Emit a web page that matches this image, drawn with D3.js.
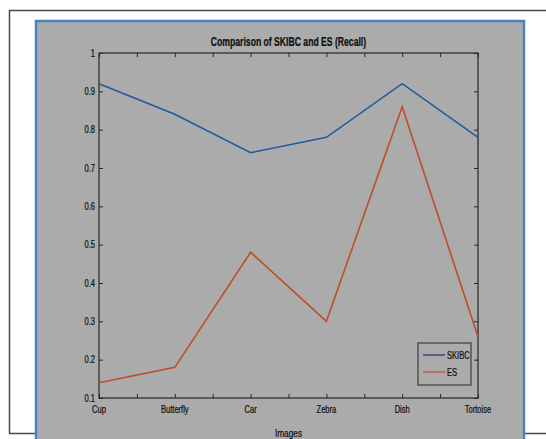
<!DOCTYPE html>
<html>
<head>
<meta charset="utf-8">
<script src="https://cdn.jsdelivr.net/npm/d3@7"></script>
<style>
  html, body { margin: 0; padding: 0; background: #fff; }
  svg { display: block; }
  text { font-family: 'Liberation Sans', Arial, sans-serif; fill: #111; stroke: #111; stroke-width: 0.25; }
</style>
</head>
<body>
<svg id="chart" width="546" height="439"></svg>
<script>
// chart data
const categories = ['Cup', 'Butterfly', 'Car', 'Zebra', 'Dish', 'Tortoise'];
const skibc = [0.92, 0.84, 0.74, 0.78, 0.92, 0.78];
const es = [0.14, 0.18, 0.48, 0.30, 0.86, 0.26];
const yTicks = [0.1, 0.2, 0.3, 0.4, 0.5, 0.6, 0.7, 0.8, 0.9, 1];
const seriesNames = ['SKIBC', 'ES'];

const W = 546;
const NARROW = 0.72; // the original uses a condensed face, squeeze horizontally
const svg = d3.select('#chart');

// place text at (x, y) squeezed horizontally
function narrowAt(sel, fx, fy) {
  return sel.attr('transform', (d, i) => `translate(${fx(d, i)},${fy(d, i)}) scale(${NARROW},1)`);
}

// outer page frame
svg.append('path')
  .attr('d', `M9.5,433.5 V10.5 H${W}`)
  .attr('fill', 'none')
  .attr('stroke', '#4a4a4a')
  .attr('stroke-width', 1.5);
svg.append('line')
  .attr('x1', 9).attr('x2', W).attr('y1', 433.5).attr('y2', 433.5)
  .attr('stroke', '#4a4a4a').attr('stroke-width', 1.5);

// gray figure panel with blue border
svg.append('rect')
  .attr('x', 36).attr('y', 21).attr('width', 488).attr('height', 440)
  .attr('fill', '#ababab')
  .attr('stroke', '#4d80c2')
  .attr('stroke-width', 2.5);

const plot = { left: 99, right: 478, top: 53, bottom: 398 };

// x uses an index scale so minor ticks fall half way between categories
const x = d3.scaleLinear().domain([0, categories.length - 1]).range([plot.left, plot.right]);
const y = d3.scaleLinear().domain([0.1, 1]).range([plot.bottom, plot.top]);

const g = svg.append('g');
const minorX = d3.range(0, categories.length - 0.99, 0.5);

// axes, ticks pointing inward on all four sides (box on)
g.append('g')
  .attr('transform', `translate(0,${plot.bottom})`)
  .call(d3.axisBottom(x).tickValues(minorX).tickSize(-4).tickFormat(''))
  .call((s) => s.select('.domain').remove());
g.append('g')
  .attr('transform', `translate(0,${plot.top})`)
  .call(d3.axisTop(x).tickValues(minorX).tickSize(-4).tickFormat(''))
  .call((s) => s.select('.domain').remove());
g.append('g')
  .attr('transform', `translate(${plot.left},0)`)
  .call(d3.axisLeft(y).tickValues(yTicks).tickSize(-4).tickFormat(''))
  .call((s) => s.select('.domain').remove());
g.append('g')
  .attr('transform', `translate(${plot.right},0)`)
  .call(d3.axisRight(y).tickValues(yTicks).tickSize(-4).tickFormat(''))
  .call((s) => s.select('.domain').remove());
g.selectAll('.tick line').attr('stroke', '#262626');

g.append('rect')
  .attr('x', plot.left).attr('y', plot.top)
  .attr('width', plot.right - plot.left).attr('height', plot.bottom - plot.top)
  .attr('fill', 'none').attr('stroke', '#262626').attr('stroke-width', 1.2);

// tick labels
g.selectAll('.ylab')
  .data(yTicks)
  .join('text')
  .attr('class', 'ylab')
  .attr('text-anchor', 'end')
  .style('font-size', '10.5px')
  .text((d) => d3.format('~g')(d))
  .call(narrowAt, () => plot.left - 4, (d) => y(d) + 3.5);

g.selectAll('.xlab')
  .data(categories)
  .join('text')
  .attr('class', 'xlab')
  .attr('text-anchor', 'middle')
  .style('font-size', '10.5px')
  .text((d) => d)
  .call(narrowAt, (_, i) => x(i), () => plot.bottom + 15);

svg.append('text')
  .datum(0)
  .attr('text-anchor', 'middle')
  .style('font-size', '11.5px')
  .text('Images')
  .call(narrowAt, () => (plot.left + plot.right) / 2, () => 437);

svg.append('text')
  .datum(0)
  .attr('text-anchor', 'middle')
  .style('font-size', '12px')
  .style('font-weight', 'bold')
  .text('Comparison of SKIBC and ES (Recall)')
  .call(narrowAt, () => (plot.left + plot.right) / 2, () => 46);

// series lines
const colours = ['#1f5c9e', '#bf4e28'];
const line = d3.line().x((_, i) => x(i)).y((d) => y(d));
[skibc, es].forEach((vals, k) => {
  g.append('path')
    .datum(vals)
    .attr('d', line)
    .attr('fill', 'none')
    .attr('stroke', colours[k])
    .attr('stroke-width', 1.6);
});

// legend
const legend = svg.append('g').attr('transform', 'translate(418,343)');
legend.append('rect')
  .attr('width', 53).attr('height', 42)
  .attr('fill', '#ababab')
  .attr('stroke', '#262626').attr('stroke-width', 1);
const legendColours = ['#1a2f73', '#bf4e28'];
seriesNames.forEach((name, i) => {
  legend.append('line')
    .attr('x1', 5).attr('x2', 27)
    .attr('y1', 12 + i * 17).attr('y2', 12 + i * 17)
    .attr('stroke', legendColours[i]).attr('stroke-width', 1.2);
  legend.append('text')
    .datum(name)
    .style('font-size', '10.5px')
    .text(name)
    .call(narrowAt, () => 29, () => 16 + i * 17);
});
</script>
</body>
</html>
